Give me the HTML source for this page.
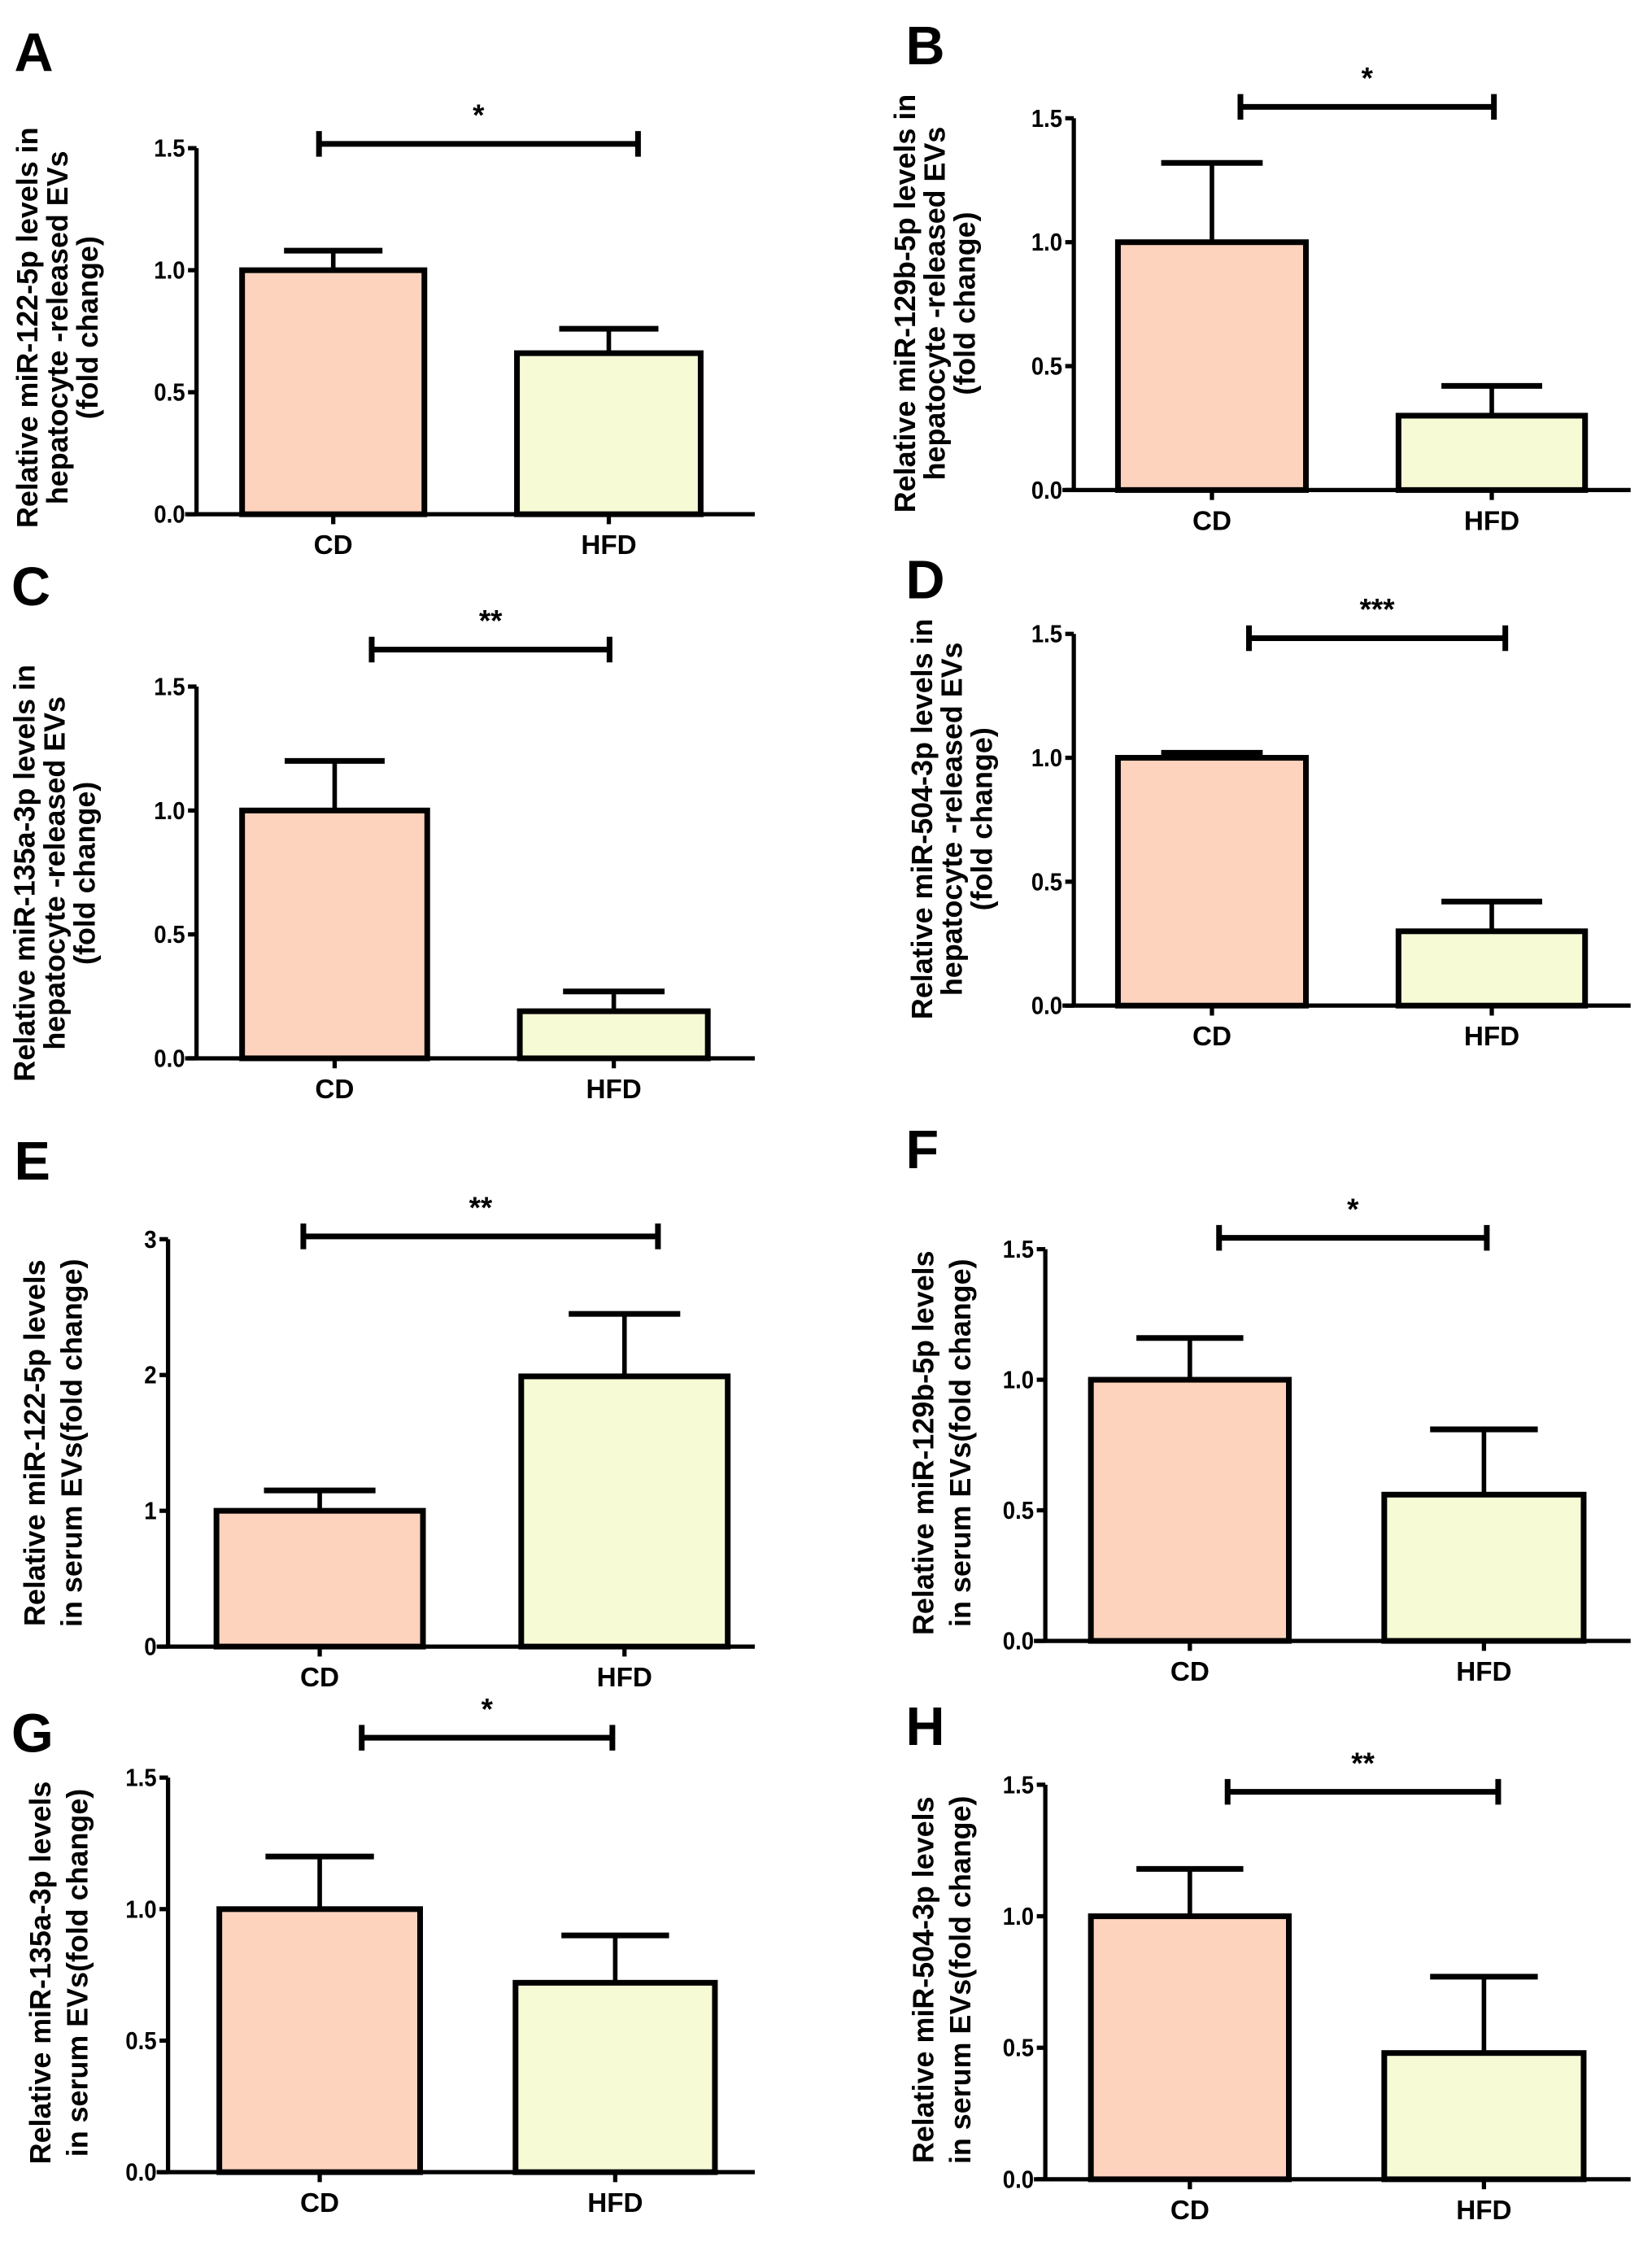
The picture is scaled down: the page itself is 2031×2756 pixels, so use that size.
<!DOCTYPE html>
<html><head><meta charset="utf-8"><style>
html,body{margin:0;padding:0;background:#fff}
svg{display:block}
text{font-family:"Liberation Sans",sans-serif;font-weight:bold;fill:#000}
</style></head><body>
<svg id="fig" width="2031" height="2756" viewBox="0 0 1160 1574" xmlns="http://www.w3.org/2000/svg"></svg>
<script>
// ---- data ----
const panelLetters = ["A","B","C","D","E","F","G","H"];
const categories = ["CD","HFD"];
const cdMeans  = [1.0, 1.0, 1.0, 1.0, 1.0, 1.0, 1.0, 1.0];
const cdErrs   = [0.08, 0.32, 0.20, 0.02, 0.15, 0.16, 0.20, 0.18];
const hfdMeans = [0.66, 0.30, 0.19, 0.30, 1.99, 0.56, 0.72, 0.48];
const hfdErrs  = [0.10, 0.12, 0.08, 0.12, 0.46, 0.25, 0.18, 0.29];
const yMaxes   = [1.5, 1.5, 1.5, 1.5, 3, 1.5, 1.5, 1.5];
const tickLabelsStd = ["0.0","0.5","1.0","1.5"];
const tickLabelsE = ["0","1","2","3"];
const sigLabels = ["*","*","**","***","**","*","*","**"];
const yTitles = [
 ["Relative miR-122-5p levels in","hepatocyte -released EVs","(fold change)"],
 ["Relative miR-129b-5p levels in","hepatocyte -released EVs","(fold change)"],
 ["Relative miR-135a-3p levels in","hepatocyte -released EVs","(fold change)"],
 ["Relative miR-504-3p levels in","hepatocyte -released EVs","(fold change)"],
 ["Relative miR-122-5p levels","in serum EVs(fold change)"],
 ["Relative miR-129b-5p levels","in serum EVs(fold change)"],
 ["Relative miR-135a-3p levels","in serum EVs(fold change)"],
 ["Relative miR-504-3p levels","in serum EVs(fold change)"]
];
// ---- layout (pixel geometry, not data) ----
const layout = [
 {ax:138,y0:361,yt:104,xe:530,b:[[170,298],[363,492]],br:[224,448,101],lx:10,ly:50,tx:[21,42,63],tyc:230},
 {ax:754,y0:344,yt:83,xe:1145,b:[[785,917],[982,1113]],br:[871,1049,75],lx:636,ly:45,tx:[637,658,679],tyc:213},
 {ax:138,y0:743,yt:482,xe:530,b:[[170,300],[365,497]],br:[261,428,456],lx:8,ly:425,tx:[19,40,61],tyc:613},
 {ax:754,y0:706,yt:445,xe:1145,b:[[785,917],[982,1113]],br:[877,1057,448],lx:636,ly:420,tx:[649,670,691],tyc:575},
 {ax:118,y0:1156,yt:870,xe:530,b:[[152,297],[366,511]],br:[213,462,868],lx:10,ly:828,tx:[26,52],tyc:1013},
 {ax:734,y0:1152,yt:877,xe:1145,b:[[766,905],[972,1112]],br:[856,1044,869],lx:636,ly:820,tx:[650,676],tyc:1013},
 {ax:118,y0:1525,yt:1248,xe:530,b:[[154,295],[362,502]],br:[254,430,1220],lx:8,ly:1230,tx:[30,56],tyc:1385},
 {ax:734,y0:1530,yt:1253,xe:1145,b:[[766,905],[972,1112]],br:[862,1052,1258],lx:636,ly:1225,tx:[650,676],tyc:1390}
];
const fills = ["#fdd3be","#f7fbd5"];
const NS="http://www.w3.org/2000/svg";
const svg=document.getElementById('fig');
function mk(tag,attrs,parent){const e=document.createElementNS(NS,tag);for(const k in attrs)e.setAttribute(k,attrs[k]);(parent||svg).appendChild(e);return e;}
function txt(s,attrs,parent){const e=mk('text',attrs,parent);e.textContent=s;return e;}

layout.forEach((L,i)=>{
  const g=mk('g',{});
  
  
  const yMax=yMaxes[i];
  const y=v=>L.y0-(v/yMax)*(L.y0-L.yt);
  const lab=txt(panelLetters[i],{x:L.lx,y:L.ly,'font-size':38},g);
  
  
  const ya=mk('line',{x1:L.ax,y1:L.y0,x2:L.ax,y2:L.yt,stroke:'#000','stroke-width':3},g);
  
  
  const ticks = yMax===3?tickLabelsE:tickLabelsStd;
  ticks.forEach((t,k)=>{
    const v=parseFloat(t);
    mk('line',{x1:L.ax-6,y1:y(v),x2:L.ax,y2:y(v),stroke:'#000','stroke-width':3},g);
    const tl=txt(t,{x:L.ax-8,y:y(v)+6,'font-size':17.5,'text-anchor':'end',transform:`translate(${L.ax-8} 0) scale(0.9 1) translate(${-(L.ax-8)} 0)`},g);
    
    
  });
  const means=[cdMeans[i],hfdMeans[i]], errs=[cdErrs[i],hfdErrs[i]];
  means.forEach((m,j)=>{
    const [x0,x1]=L.b[j], cx=(x0+x1)/2, w=(x1-x0);
    const top=y(m+errs[j]);
    const el=mk('line',{x1:cx,y1:y(m),x2:cx,y2:top,stroke:'#000','stroke-width':3.2},g);
    
    
    mk('line',{x1:cx-w*0.27,y1:top,x2:cx+w*0.27,y2:top,stroke:'#000','stroke-width':4},g);
    const r=mk('rect',{x:x0,y:y(m),width:w,height:L.y0-y(m),fill:fills[j],stroke:'#000','stroke-width':4},g);
    
    
    mk('line',{x1:cx,y1:L.y0,x2:cx,y2:L.y0+7,stroke:'#000','stroke-width':3},g);
    const cl=txt(categories[j],{x:cx,y:L.y0+28,'font-size':19,'text-anchor':'middle'},g);
    
    
  });
  const xa=mk('line',{x1:L.ax-8,y1:L.y0,x2:L.xe,y2:L.y0,stroke:'#000','stroke-width':3},g);
  
  
  const [bx0,bx1,by]=L.br;
  const sb=mk('path',{d:`M${bx0},${by-9}V${by+9}M${bx0},${by}H${bx1}M${bx1},${by-9}V${by+9}`,stroke:'#000','stroke-width':4,fill:'none'},g);
  
  
  const st=txt(sigLabels[i],{x:(bx0+bx1)/2,y:by-13,'font-size':21,'text-anchor':'middle'},g);
  
  
  yTitles[i].forEach((line,k)=>{
    const tx=L.tx[k];
    const t=txt(line,{x:tx,y:L.tyc,'font-size':20.5,'text-anchor':'middle',transform:`rotate(-90 ${tx} ${L.tyc})`},g);
    t.setAttribute('dominant-baseline','middle');
    
    
  });
});
</script>
</body></html>
